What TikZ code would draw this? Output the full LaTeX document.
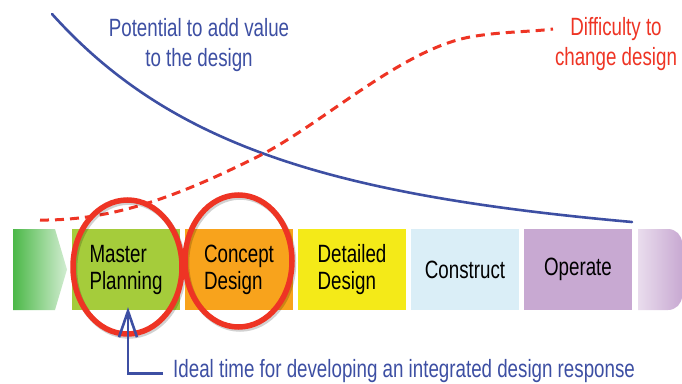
\documentclass[tikz,border=0pt]{standalone}
\usepackage{fontspec}
\setmainfont[FakeStretch=0.75]{Liberation Sans}
\usetikzlibrary{arrows.meta}

\definecolor{valueblue}{HTML}{3D4FA3}
\definecolor{changered}{HTML}{EE3424}
\definecolor{startgreen}{HTML}{4CB848}
\definecolor{mpgreen}{HTML}{A5CC3B}
\definecolor{cdorange}{HTML}{F8A31C}
\definecolor{ddyellow}{HTML}{F4EA18}
\definecolor{cnblue}{HTML}{DAEEF7}
\definecolor{oplilac}{HTML}{C8A9D2}

\tikzset{
	stage/.style={minimum width=108pt, minimum height=81pt, inner sep=0pt, align=left,
		font=\fontsize{25}{27}\selectfont},
	ring/.style={draw=changered, line width=5.5pt},
	ringshadow/.style={draw=black, opacity=0.18, line width=5.5pt},
	lbl/.style={align=center, inner sep=0pt, font=\fontsize{25}{30}\selectfont}
}

\begin{document}
\begin{tikzpicture}[x=1pt,y=-1pt]
		\useasboundingbox (0,0) rectangle (682,383);
		
		\shade[left color=startgreen, right color=startgreen!25!white]
			(13,229) -- (55,229) -- (67,269.5) -- (55,310) -- (13,310) -- cycle;
		\shade[left color=oplilac!40!white, right color=oplilac]
			(638,229) -- (668,229) arc[start angle=90, end angle=0, radius=14pt]
			-- (682,296) arc[start angle=0, end angle=-90, radius=14pt] -- (638,310) -- cycle;
		
		\node[stage, fill=mpgreen] at (126,269.5) (master) {Master\\Planning};
		\node[stage, fill=cdorange] at (239,269.5) (concept) {Concept\\Design};
		\node[stage, fill=ddyellow] at (352,269.5) (detailed) {Detailed\\Design};
		\node[stage, fill=cnblue] at (465,269.5) (construct) {Construct};
		\node[stage, fill=oplilac] at (578,269.5) (operate) {Operate};
		
		\draw[valueblue, line width=2.6pt, line cap=round]
			(52,14) .. controls (170,145) and (330,195) .. (632,222);
		\draw[changered, line width=3pt, dash pattern=on 9pt off 6pt]
			(40,220) .. controls (120,221) and (190,190) .. (257,157)
			.. controls (320,126) and (400,50) .. (470,37)
			.. controls (500,31.5) and (530,32) .. (553,29);
		
		\draw[ringshadow] (129,269) ellipse [x radius=54.5pt, y radius=67pt];
		\draw[ringshadow] (240,263) ellipse [x radius=53.5pt, y radius=66pt];
		\draw[ring] (127.5,267) ellipse [x radius=54.5pt, y radius=67pt];
		\draw[ring] (238.5,261) ellipse [x radius=53.5pt, y radius=66pt];
		
		\node[lbl, text=valueblue] at (199,45) (potential) {Potential to add value\\to the design};
		\node[lbl, text=changered] at (616,44) (difficulty) {Difficulty to\\change design};
		\node[lbl, text=valueblue, anchor=base west] at (173,377) (ideal)
			{Ideal time for developing an integrated design response};
		
		\draw[valueblue, line width=2.6pt, -{Straight Barb[length=26pt, width=18pt, line width=2.6pt]}]
			([xshift=-10pt, yshift=-3pt]ideal.west) -| ([xshift=2pt, yshift=3pt]master.south);
\end{tikzpicture}
\end{document}
